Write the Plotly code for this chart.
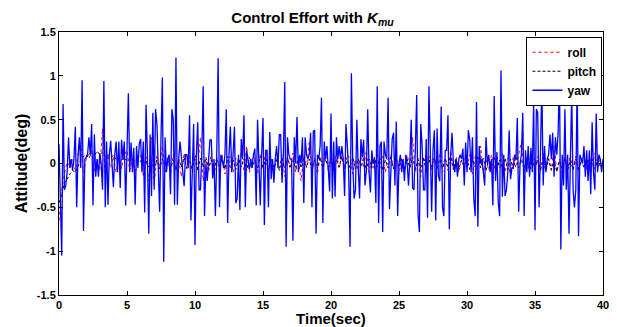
import plotly.graph_objects as go

# ---- data ----
# yaw sampled every 0.1 s (0 .. 40 s)
yaw_dt = 0.1
yaw = [
    0.22, -0.5, -1.05, 0.68, -0.3, -0.25, -0.1, 0.3, -0.05, 0.05,
    -0.08, 0.05, 0.42, -0.5, 0.1, 0.3, -0.05, 0.95, -0.77, 0.05,
    0.08, 0.1, 0.3, 0.1, 0.45, -0.48, 0.33, -0.15, 0.05, -0.15,
    0.12, 0.0, -0.3, 0.94, -0.5, 0.25, -0.47, 0.1, 0.26, 0.0,
    -0.27, 0.1, 0.25, -0.1, 0.25, -0.28, 0.27, 0.05, 0.25, -0.48,
    0.1, 0.8, -0.1, 0.24, -0.1, 0.18, -0.47, 0.2, -0.05, 0.22,
    0.28, -0.1, 0.25, -0.56, 0.67, 0.1, -0.8, 0.33, -0.37, 0.58,
    -0.3, 0.62, 0.45, -0.1, -0.55, 0.3, 0.98, -1.12, 0.3, -0.1,
    0.05, 0.1, -0.35, 0.62, 0.5, -0.47, 1.21, -0.47, 0.05, 0.25,
    0.05, -0.05, -0.26, 0.1, 0.1, -0.05, 0.55, -0.65, 0.1, 0.45,
    -0.93, 0.1, 0.47, -0.3, -0.3, 0.1, 0.88, -0.6, 0.0, -0.2,
    0.05, 0.27, 0.27, -0.17, 0.05, -0.6, 0.1, 1.2, -0.5, 0.1,
    0.05, -0.05, 0.1, 0.62, -0.68, 0.1, 0.42, -0.1, 0.1, 0.42,
    -0.45, -0.4, 0.1, -0.53, 0.28, 0.05, 0.55, -0.5, 0.15, 0.0,
    -0.07, 0.05, -0.05, 0.1, 0.17, -0.48, 0.5, 0.0, -0.48, 0.1,
    0.52, -0.7, 0.15, 0.15, -0.5, 0.36, -0.18, 0.05, -0.22, 0.05,
    0.2, -0.05, 0.33, 0.33, -0.22, 0.1, 0.93, -0.95, 0.3, 0.1,
    0.05, 0.05, -0.88, 0.3, 0.0, 0.53, -0.1, 0.1, 0.0, 0.3,
    -0.45, 0.3, 0.1, 0.05, 0.1, 0.35, -0.5, 0.37, 0.38, -0.8,
    0.1, 0.05, 0.2, 0.75, -0.68, 0.25, 0.05, 0.2, -0.05, -0.32,
    0.57, -0.4, 0.25, -0.38, 0.3, 0.05, 0.2, 0.05, 0.2, 0.05,
    -0.37, 0.45, 0.2, -0.1, -0.95, 1.03, 0.0, -0.4, -0.3, 0.5,
    -0.05, -0.4, 0.28, 0.07, 0.27, -0.25, -0.08, 0.62, -0.1, -0.33,
    0.15, 0.0, 0.05, -0.45, 0.88, -0.68, 0.2, 0.25, -0.78, 0.25,
    0.1, 0.05, 0.75, -0.52, -0.1, 0.28, 0.35, -0.25, 0.48, -0.6,
    0.0, 0.1, -0.1, 0.05, -0.2, 0.1, 0.0, -0.25, 0.05, 0.5,
    -0.28, -0.3, 0.15, 0.78, -0.58, -0.78, 0.45, 0.2, -0.3, -0.3,
    0.28, -0.62, 0.88, 0.3, -0.55, 0.15, 0.38, -0.65, 0.4, -0.15,
    -0.2, 0.65, -0.5, -0.6, 0.15, 0.15, 0.55, -0.75, 0.1, 0.35,
    0.0, -0.1, 0.05, -0.15, 0.05, 0.1, 0.05, 0.17, -0.25, 0.24,
    -0.1, 0.38, 0.27, -0.1, 0.3, -0.4, -0.6, 0.7, -0.72, 0.2,
    0.0, 0.05, -0.1, -0.25, 0.3, 0.0, 0.1, -0.1, 0.05, -0.48,
    0.77, -0.2, 0.13, -0.45, -0.6, 1.06, -0.38, 0.1, -0.37, -0.3,
    -0.1, 0.38, -0.18, -0.05, -0.05, 0.1, 0.05, 0.52, -0.55, 0.0,
    0.1, 0.58, -0.6, 0.15, -0.1, 0.2, -0.15, 0.18, -0.1, 0.7,
    -0.76, 0.62, 0.58, -0.5, 0.1, 0.93, -0.25, 0.2, -0.1, 0.05,
    0.1, 0.33, 0.05, 0.35, -0.15, 0.3, 0.1, 0.35, 1.0, -0.98,
    0.1, -0.25, 0.62, -0.3, 0.1, -0.8, 0.05, 0.78, -0.3, -0.5,
    -0.3, 0.93, -0.83, 0.1, 0.05, 0.0, 0.2, -0.15, 0.15, -0.2,
    0.15, -0.35, 0.47, -0.1, -0.3, 0.57, -0.1, 0.1, 0.05, -0.1,
    0.05,
]

# roll and pitch sampled every 0.2 s (0 .. 40 s)
rp_dt = 0.2
roll = [
    -0.65, -0.3, -0.12, 0.02, -0.05, 0.05, -0.08, 0.1, 0.2, -0.1,
    0.05, 0.1, 0.15, -0.1, 0.05, -0.08, 0.4, -0.15, 0.1, -0.05,
    0.08, -0.1, 0.12, -0.06, 0.1, 0.15, -0.08, 0.05, -0.12, 0.06,
    0.1, -0.15, 0.08, -0.2, 0.3, -0.25, 0.1, -0.05, 0.2, -0.1,
    0.05, -0.12, 0.1, -0.08, 0.06, -0.15, 0.12, -0.05, 0.08, -0.1,
    0.1, -0.06, 0.3, -0.2, 0.05, -0.1, 0.12, -0.15, 0.06, -0.08,
    0.1, -0.12, 0.05, 0.08, -0.1, 0.06, -0.05, 0.12, -0.08, 0.2,
    -0.1, 0.05, 0.08, -0.12, 0.1, -0.06, 0.15, -0.1, 0.05, -0.08,
    0.06, -0.05, 0.1, -0.15, 0.08, -0.06, 0.12, -0.1, 0.05, -0.2,
    0.1, -0.05, 0.25, -0.1, 0.06, -0.12, 0.08, -0.05, 0.1, -0.08,
    0.05, -0.1, 0.12, -0.06, 0.08, -0.05, 0.1, 0.06, -0.12, 0.05,
    -0.08, 0.1, -0.05, 0.15, -0.1, 0.06, -0.08, 0.12, -0.05, 0.08,
    -0.1, 0.05, 0.1, -0.06, 0.08, -0.12, 0.05, -0.08, 0.1, -0.05,
    0.3, -0.1, 0.06, -0.15, 0.08, -0.05, 0.1, -0.08, 0.05, -0.06,
    0.12, -0.1, 0.05, -0.08, 0.15, -0.06, 0.08, -0.1, 0.05, 0.06,
    -0.05, 0.1, -0.12, 0.08, -0.06, 0.2, -0.1, 0.05, -0.08, 0.1,
    -0.06, 0.08, -0.05, 0.12, -0.1, 0.06, -0.15, 0.08, -0.05, 0.1,
    0.25, -0.12, 0.05, -0.08, 0.1, -0.06, 0.08, -0.1, 0.12, -0.05,
    0.06, -0.08, 0.2, -0.1, 0.05, -0.12, 0.08, -0.06, 0.1, -0.05,
    0.08, -0.1, 0.05, 0.06, -0.08, 0.1, -0.05, 0.12, -0.06, 0.05,
    0.02,
]
pitch = [
    -0.45, -0.35, -0.22, -0.18, -0.12, -0.08, -0.1, -0.02, 0.04, 0.08,
    0.1, 0.06, 0.12, 0.09, 0.14, 0.1, 0.13, 0.08, 0.1, 0.07,
    0.09, 0.05, 0.08, 0.04, 0.06, 0.03, 0.05, 0.02, 0.04, 0.0,
    0.03, -0.03, 0.04, -0.04, 0.02, -0.05, 0.04, -0.06, 0.05, -0.03,
    0.06, -0.05, 0.04, -0.07, 0.05, -0.04, 0.07, -0.06, 0.03, -0.05,
    0.05, -0.08, 0.06, -0.04, 0.07, -0.06, 0.04, -0.07, 0.06, -0.03,
    0.05, -0.06, 0.08, -0.05, 0.04, -0.07, 0.06, -0.04, 0.05, -0.08,
    0.07, -0.05, 0.04, -0.06, 0.08, -0.04, 0.05, -0.07, 0.06, -0.05,
    0.04, -0.08, 0.06, -0.05, 0.07, -0.04, 0.05, -0.06, 0.08, -0.05,
    0.06, -0.04, 0.05, -0.07, 0.04, -0.06, 0.07, -0.05, 0.05, -0.04,
    0.06, -0.07, 0.05, -0.04, 0.08, -0.06, 0.04, -0.05, 0.07, -0.06,
    0.05, -0.04, 0.06, -0.08, 0.05, -0.05, 0.07, -0.04, 0.06, -0.07,
    0.04, -0.05, 0.08, -0.06, 0.05, -0.04, 0.06, -0.07, 0.05, -0.05,
    0.07, -0.06, 0.04, -0.05, 0.06, -0.08, 0.05, -0.04, 0.07, -0.06,
    0.05, -0.05, 0.06, -0.04, 0.08, -0.07, 0.05, -0.06, 0.04, -0.05,
    0.06, -0.07, 0.05, -0.04, 0.07, -0.05, 0.06, -0.08, 0.05, -0.04,
    0.07, -0.06, 0.04, -0.05, 0.06, -0.07, 0.05, -0.06, 0.08, -0.05,
    0.04, -0.06, 0.07, -0.08, 0.05, -0.06, 0.04, -0.07, 0.03, -0.08,
    0.05, -0.07, 0.04, -0.09, 0.03, -0.06, 0.05, -0.08, 0.04, -0.07,
    0.05, -0.06, 0.04, -0.05, 0.06, -0.04, 0.05, -0.06, 0.04, -0.03,
    0.0,
]

series_names = ["roll", "pitch", "yaw"]
x_ticks = [0, 5, 10, 15, 20, 25, 30, 35, 40]
y_ticks = [-1.5, -1, -0.5, 0, 0.5, 1, 1.5]
y_tick_labels = ["-1.5", "-1", "-0.5", "0", "0.5", "1", "1.5"]

t_yaw = [round(i * yaw_dt, 2) for i in range(len(yaw))]
t_rp = [round(i * rp_dt, 2) for i in range(len(roll))]

FONT = "Arial, Liberation Sans, sans-serif"

fig = go.Figure()
fig.add_trace(go.Scatter(x=t_rp, y=roll, mode="lines", name=series_names[0],
                         line=dict(color="#ff0000", width=1, dash="dot")))
fig.add_trace(go.Scatter(x=t_rp, y=pitch, mode="lines", name=series_names[1],
                         line=dict(color="#000000", width=1, dash="3px,2px")))
fig.add_trace(go.Scatter(x=t_yaw, y=yaw, mode="lines", name=series_names[2],
                         line=dict(color="#0000ff", width=1.3)))

axis_common = dict(showline=True, linecolor="black", linewidth=1, mirror="ticks",
                   ticks="inside", ticklen=4, tickcolor="black", showgrid=False,
                   zeroline=False, automargin=False,
                   tickfont=dict(family=FONT, size=11, color="black", weight="bold"))

# the page body has an 8px default margin, so the figure is sized to fit the window
fig.update_layout(
    width=609, height=319,
    margin=dict(l=51, r=14, t=24, b=32),
    paper_bgcolor="white", plot_bgcolor="white",
    title=dict(text="Control Effort with <i>K</i><sub><i>mu</i></sub>",
               x=0.5, xanchor="center", y=0.971, yanchor="middle",
               font=dict(family=FONT, size=15, color="black", weight="bold")),
    xaxis=dict(range=[0, 40], tickvals=x_ticks, **axis_common,
               title=dict(text="Time(sec)", standoff=0,
                          font=dict(family=FONT, size=15, color="black", weight="bold"))),
    yaxis=dict(range=[-1.5, 1.5], tickvals=y_ticks, ticktext=y_tick_labels, **axis_common,
               title=dict(text="Attitude(deg)", standoff=5,
                          font=dict(family=FONT, size=16, color="black", weight="bold"))),
    legend=dict(x=0.999, xanchor="right", y=0.982, yanchor="top",
                bgcolor="white", bordercolor="black", borderwidth=1,
                font=dict(family=FONT, size=12, color="black", weight="bold"),
                tracegroupgap=0, itemwidth=30),
    showlegend=True,
)

fig.write_html("out.html")
